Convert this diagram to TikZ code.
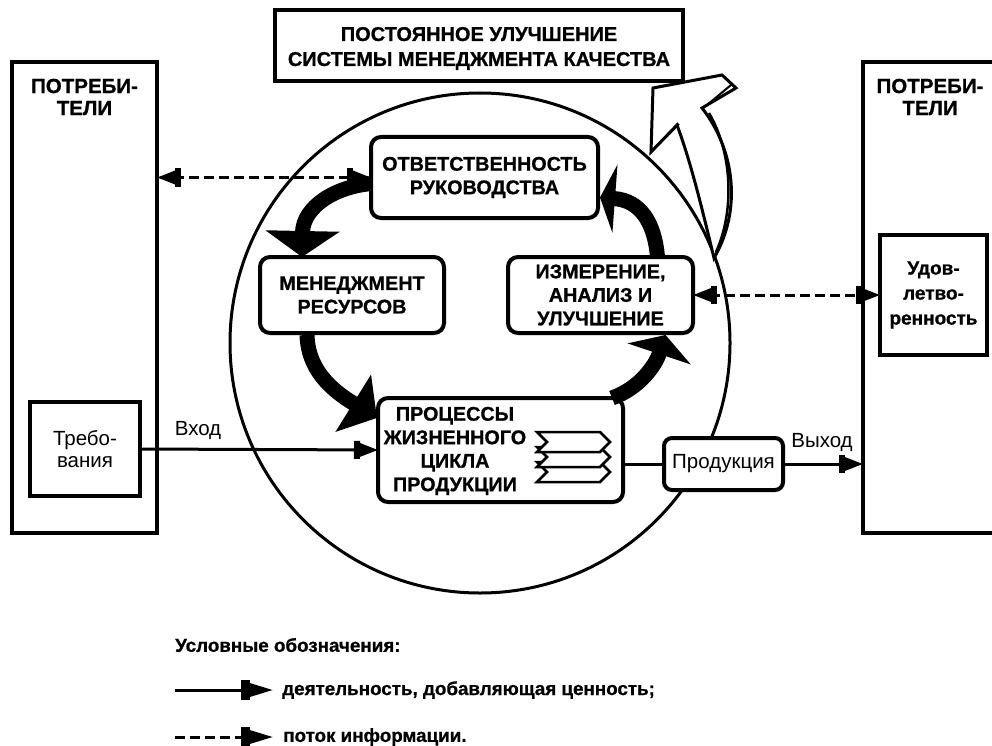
\documentclass[tikz,border=0pt]{standalone}
\usepackage{fontspec}
\setmainfont{Liberation Sans}
\newfontfamily\heavyf[FakeBold=0.8]{Liberation Sans}
\usetikzlibrary{arrows.meta,calc}
\newcommand\capf{\heavyf\fontsize{19.8pt}{23.5pt}\selectfont\bfseries}
\newcommand\custf{\heavyf\fontsize{20.5pt}{22pt}\selectfont\bfseries}
\newcommand\titf{\heavyf\fontsize{20pt}{25pt}\selectfont\bfseries}
\newcommand\regf{\fontsize{20.5pt}{22pt}\selectfont}
\newcommand\udf{\heavyf\fontsize{19pt}{25pt}\selectfont\bfseries}
\newcommand\legf{\heavyf\fontsize{18.8pt}{22pt}\selectfont\bfseries}
\begin{document}
\begin{tikzpicture}[x=1pt,y=-1pt,
  box/.style={draw,line width=4.5pt,fill=white,inner sep=0pt,outer sep=0pt,align=center},
  rbox/.style={box,line width=4pt,rounded corners=10pt},
  lbl/.style={inner sep=0pt,align=center},
  conn/.style={line width=3pt},
  dsh/.style={conn,dash pattern=on 10pt off 5pt},
  endtip/.style={-{Rectangle[length=6pt,width=18pt]Triangle[length=18pt,width=13pt]}},
  bothtip/.style={{Triangle[length=18pt,width=13pt]Rectangle[length=6pt,width=18pt]}-{Rectangle[length=6pt,width=18pt]Triangle[length=18pt,width=13pt]}},
  legtip/.style={-{Rectangle[length=9pt,width=20pt]Triangle[length=23pt,width=13pt]}},
  big/.style={line width=15pt,draw=black},
]
\useasboundingbox (0,0) rectangle (992,746);
\clip (0,0) rectangle (992,746);
\fill[white] (0,0) rectangle (992,746);

% big circle
\node[circle,draw,line width=3pt,minimum size=500pt,inner sep=0pt] (circ) at (480,343) {};

% hollow improvement arrow
\filldraw[fill=white,line width=3pt,line join=miter]
  (714,258) .. controls (700,200) and (690,160) .. (677,125)
  -- (651,152) -- (653,88) -- (722,75) -- (736,88) -- (702,108)
  .. controls (735,150) and (742,210) .. cycle;
\draw[line width=2.5pt] (709,113) .. controls (732,152) and (735,210) .. (716,252);
\draw[line width=2pt] (657,146) -- (679,124);
\draw[line width=2pt] (707,105) -- (731,85);

% customers
\node[box,minimum width=145pt,minimum height=471pt] (lcust) at (84.5,297.5) {};
\node[lbl,font=\custf] (lcusttxt) at (84.5,97) {ПОТРЕБИ-\\ТЕЛИ};
\node[box,minimum width=142pt,minimum height=471pt] (rcust) at (934,297.5) {};
\node[lbl,font=\custf] (rcusttxt) at (930,97) {ПОТРЕБИ-\\ТЕЛИ};

% title
\node[box,minimum width=408pt,minimum height=71pt] (title) at (479,45.5) {};
\node[lbl,font=\titf] (titletxt) at (479,48.5) {ПОСТОЯННОЕ УЛУЧШЕНИЕ\\СИСТЕМЫ МЕНЕДЖМЕНТА КАЧЕСТВА};

% inner boxes
\node[box,minimum width=110pt,minimum height=94pt,font=\regf] (treb) at (85,449) {Требо-\\вания};
\node[box,minimum width=107pt,minimum height=120pt,font=\udf] (udov) at (933.5,295) {Удов-\\летво-\\ренность};
\node[rbox,minimum width=227pt,minimum height=81pt,font=\capf] (otv) at (484.5,177.5) {ОТВЕТСТВЕННОСТЬ\\РУКОВОДСТВА};
\node[rbox,minimum width=184pt,minimum height=76pt,font=\capf] (men) at (352,295) {МЕНЕДЖМЕНТ\\РЕСУРСОВ};
\node[rbox,minimum width=185pt,minimum height=76pt,font=\capf] (izm) at (600.5,295) {ИЗМЕРЕНИЕ,\\АНАЛИЗ И\\УЛУЧШЕНИЕ};
\node[rbox,minimum width=245pt,minimum height=104pt] (proc) at (500.5,450) {};
\node[lbl,font=\capf] (proctxt) at (455,451) {ПРОЦЕССЫ\\ЖИЗНЕННОГО\\ЦИКЛА\\ПРОДУКЦИИ};
\foreach \t in {462,447,432}
  \filldraw[fill=white,line width=2.5pt] (537,\t) -- (600,\t) -- (610,\t+10) -- (600,\t+20) -- (537,\t+20) -- (547,\t+10) -- cycle;
\node[rbox,rounded corners=8pt,minimum width=119pt,minimum height=52pt,font=\regf] (prod) at (723.5,464) {Продукция};

% labels
\node[lbl,font=\regf] (vhod) at (198,430) {Вход};
\node[lbl,font=\regf] (vyhod) at (822,442) {Выход};

% connectors
\draw[dsh,bothtip] (lcust.east |- otv.west) -- (otv.west);
\draw[dsh,bothtip] (izm.east) -- (udov.west);
\draw[conn,endtip] (treb.east) -- (proc.west);
\draw[conn] (proc.east |- prod.west) -- (prod.west);
\draw[conn,endtip] (prod.east) -- (prod.east -| rcust.west);

% thick cycle arrows
\coordinate (s1) at ($(otv.west)+(1,6)$);
\coordinate (e1) at ($(men.north)+(-50,0)$);
\coordinate (s2) at ($(men.south)+(-45,2)$);
\coordinate (e2) at ($(proc.west)+(-1,-32)$);
\coordinate (s3) at ($(proc.north east)+(-11,0)$);
\coordinate (e3) at ($(izm.south)+(65,2)$);
\coordinate (s4) at ($(izm.north)+(57,0)$);
\coordinate (e4) at ($(otv.east)+(2,20)$);
\draw[big,-{Triangle[length=26pt,width=73pt]}] (s1) .. controls +(-37,3) and +(1,-50) .. (e1);
\draw[big,-{Triangle[length=28pt,width=66pt]}] (s2) .. controls +(1,40) and +(-37,-23) .. (e2);
\draw[big,-{Triangle[length=20pt,width=66pt]}] (s3) .. controls +(28,-10) and +(-10,30) .. (e3);
\draw[big,-{Triangle[length=15pt,width=68pt]}] (s4) .. controls +(-3,-35) and +(40,3) .. (e4);

% legend
\node[anchor=west,inner sep=0pt,font=\legf] (leg) at (175,645) {Условные обозначения:};
\coordinate (l1a) at (175,690);
\coordinate (l1b) at (273,690);
\draw[conn,legtip] (l1a) -- (l1b);
\node[anchor=west,inner sep=0pt,font=\legf] (leg1) at (282,690) {деятельность, добавляющая ценность;};
\coordinate (l2a) at (175,737);
\coordinate (l2b) at (273,737);
\draw[dsh,legtip] (l2a) -- (l2b);
\node[anchor=west,inner sep=0pt,font=\legf] (leg2) at (283,737) {поток информации.};
\end{tikzpicture}
\end{document}
